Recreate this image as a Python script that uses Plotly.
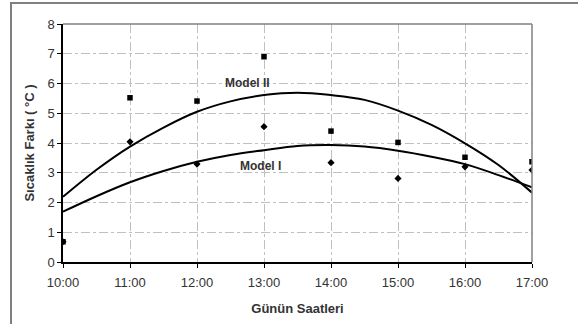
import plotly.graph_objects as go

# Hours of day (numeric) and their tick labels
hours = [10, 11, 12, 13, 14, 15, 16, 17]
hour_labels = ["10:00", "11:00", "12:00", "13:00", "14:00", "15:00", "16:00", "17:00"]

model2_data = [0.68, 5.52, 5.41, 6.90, 4.40, 4.02, 3.52, 3.37]   # squares
model1_data = [0.68, 4.04, 3.29, 4.55, 3.34, 2.81, 3.20, 3.09]   # diamonds

# Fitted curves at half-hour steps
curve_hours = [10, 10.5, 11, 11.5, 12, 12.5, 13, 13.5, 14, 14.5, 15, 15.5, 16, 16.5, 17]
model2_curve = [2.19, 3.10, 3.88, 4.52, 5.05, 5.40, 5.61, 5.69, 5.61, 5.45, 5.09, 4.61, 3.99, 3.26, 2.33]
model1_curve = [1.69, 2.21, 2.68, 3.06, 3.37, 3.60, 3.76, 3.90, 3.93, 3.88, 3.74, 3.54, 3.29, 2.92, 2.51]

y_ticks = [0, 1, 2, 3, 4, 5, 6, 7, 8]

FONT = "Liberation Sans, Arial, sans-serif"

fig = go.Figure()

fig.add_trace(go.Scatter(x=curve_hours, y=model2_curve, mode="lines",
                         line=dict(color="black", width=2, shape="spline"),
                         showlegend=False, hoverinfo="skip"))
fig.add_trace(go.Scatter(x=curve_hours, y=model1_curve, mode="lines",
                         line=dict(color="black", width=2, shape="spline"),
                         showlegend=False, hoverinfo="skip"))
fig.add_trace(go.Scatter(x=hours, y=model2_data, mode="markers",
                         marker=dict(symbol="square", size=5.5, color="black"),
                         showlegend=False))
fig.add_trace(go.Scatter(x=hours, y=model1_data, mode="markers",
                         marker=dict(symbol="diamond", size=5.5, color="black"),
                         showlegend=False))

fig.add_annotation(x=12.75, y=6.02, text="<b>Model II</b>", showarrow=False,
                   font=dict(family=FONT, size=12, color="#333333"))
fig.add_annotation(x=12.95, y=3.23, text="<b>Model I</b>", showarrow=False,
                   font=dict(family=FONT, size=12, color="#333333"))

# Plot area top/right border (gray)
fig.add_shape(type="line", xref="paper", yref="paper", x0=0, x1=1, y0=1, y1=1,
              line=dict(color="#808080", width=1.5))
fig.add_shape(type="line", xref="paper", yref="paper", x0=1, x1=1, y0=0, y1=1,
              line=dict(color="#808080", width=1.5))
# Outer chart frame (extends beyond the picture at right/bottom)
fig.add_shape(type="rect", xref="paper", yref="paper",
              x0=-52/469, x1=1.2, y0=-0.35, y1=1 + 21/238,
              line=dict(color="#808080", width=2), layer="below")

fig.update_xaxes(range=[10, 17], tickvals=hours, ticktext=hour_labels,
                 showline=True, linecolor="black", linewidth=1.5,
                 ticks="outside", ticklen=4, tickcolor="black",
                 ticklabelstandoff=4,
                 showgrid=True, gridcolor="#c0c0c0", griddash="dashdot", gridwidth=1,
                 zeroline=False, automargin=False,
                 tickfont=dict(family=FONT, size=13, color="#333333"),
                 title=dict(text="<b>Günün Saatleri</b>", standoff=15,
                            font=dict(family=FONT, size=13, color="#333333")))
fig.update_yaxes(range=[0, 8], tickvals=y_ticks,
                 showline=True, linecolor="black", linewidth=1.5,
                 ticks="outside", ticklen=4, tickcolor="black",
                 showgrid=True, gridcolor="#c0c0c0", griddash="dashdot", gridwidth=1,
                 zeroline=False, automargin=False,
                 tickfont=dict(family=FONT, size=13, color="#333333"),
                 title=dict(text="<b>Sıcaklık Farkı ( °C )</b>", standoff=10,
                            font=dict(family=FONT, size=13, color="#333333")))

fig.update_layout(width=578, height=324,
                  margin=dict(l=63, r=46, t=24, b=62),
                  paper_bgcolor="white", plot_bgcolor="white",
                  showlegend=False)

fig.write_html("out.html", config={"displayModeBar": False},
               post_script="document.body.style.margin='0';document.body.style.overflow='hidden';")
